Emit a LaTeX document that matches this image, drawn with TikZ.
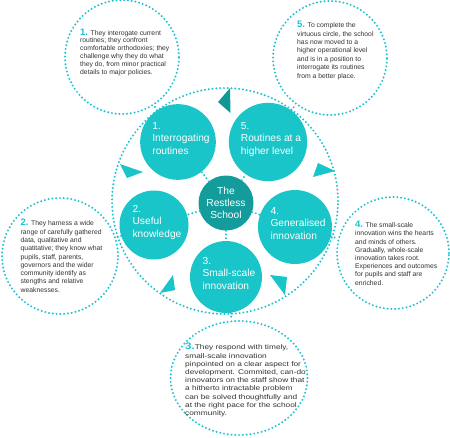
\documentclass[tikz,border=0pt]{standalone}
\usepackage{fontspec}
\usepackage{graphicx}
\setmainfont{Liberation Sans}
\usetikzlibrary{shapes.geometric}
\definecolor{petalc}{HTML}{19C5C8}
\definecolor{hubc}{HTML}{149C9C}
\definecolor{darktri}{HTML}{0E9996}
\definecolor{dotc}{HTML}{1EC2D2}
\definecolor{textc}{HTML}{333333}
\newcommand{\stepno}[1]{{\fontsize{9.5}{9.5}\selectfont\bfseries\color{dotc}#1}}
\newcommand{\ptext}[1]{\begin{tabular}{@{\hspace{6pt}}l@{}}#1\end{tabular}}
\begin{document}
\begin{tikzpicture}[x=1pt,y=-1pt,
  dotline/.style={draw=dotc, line width=2.2pt, line cap=round, dash pattern=on 0pt off 3.8pt},
  petal/.style={circle, fill=petalc, minimum size=69pt, inner sep=0pt, text=white,
    text depth=21pt, font=\fontsize{10.2}{12.3}\selectfont},
  hub/.style={circle, fill=hubc, minimum size=55pt, inner sep=0pt, text=white, align=center,
    font=\fontsize{10.2}{12.3}\selectfont},
  txtcircle/.style={circle, dotline, minimum size=114pt, inner sep=0pt},
  desc/.style={anchor=north west, inner sep=0pt, align=left, text=textc},
  tri/.style={fill=petalc},
  toptri/.style={fill=darktri}]
\useasboundingbox (0,0) rectangle (450,437);
\fill[white] (0,0) rectangle (450,437);

% big ring
\draw[dotline] (225,201) circle[radius=113pt];

% outer text circles
\node[txtcircle] (tc1) at (122,57) {};
\node[txtcircle] (tc5) at (330,58) {};
\node[txtcircle, minimum size=116pt] (tc2) at (60,256) {};
\node[txtcircle, minimum size=112pt] (tc4) at (393,253) {};
\node[ellipse, dotline, minimum width=137pt, minimum height=114pt, inner sep=0pt] (tc3) at (239,378) {};

% direction triangles
\fill[toptri] (218,102) -- (230,88) -- (230.5,113) -- cycle;
\fill[tri] (120,164) -- (143,172) -- (127,178) -- cycle;
\fill[tri] (160,293) -- (173,275) -- (175,290) -- cycle;
\fill[tri] (270,275) -- (287,277) -- (285,295) -- cycle;
\fill[tri] (318,163) -- (335,171) -- (313,177) -- cycle;

% petals and hub
\node[petal] (p1) at (178,142) {\ptext{1.\\Interrogating\\routines}};
\node[petal] (p5) at (268,142) {\ptext{5.\\Routines at a\\higher level}};
\node[petal] (p2) at (154,225) {\ptext{2.\\Useful\\knowledge}};
\node[petal] (p4) at (295,227) {\ptext{4.\\Generalised\\innovation}};
\node[petal] (p3) at (226,277) {\ptext{3.\\Small-scale\\innovation}};
\node[hub] (hub) at (226,203) {The\\Restless\\School};

% connectors
\foreach \p in {p1,p2,p3,p4,p5} \draw[dotline] (hub) -- (\p);
\draw[dotline] (p1) -- (tc1);
\draw[dotline] (p5) -- (tc5);
\draw[dotline] (p2) -- (tc2);
\draw[dotline] (p4) -- (tc4);
\draw[dotline] (p3) -- (tc3);

% descriptions
\node[desc, font=\fontsize{6.8}{7.9}\selectfont] (t1) at (80,28.3)
 {\stepno{1.} They interogate current\\routines; they confront\\comfortable orthodoxies; they\\challenge why they do what\\they do, from minor practical\\details to major policies.};
\node[desc, font=\fontsize{6.8}{8.4}\selectfont] (t5) at (297,21)
 {\stepno{5.} To complete the\\virtuous circle, the school\\has now moved to a\\higher operational level\\and is in a position to\\interrogate its routines\\from a better place.};
\node[desc, font=\fontsize{6.8}{8.3}\selectfont] (t2) at (20.5,219)
 {\stepno{2.} They harness a wide\\range of carefully gathered\\data, qualitative and\\quatitative; they know what\\pupils, staff, parents,\\governors and the wider\\community identify as\\stengths and relative\\weaknesses.};
\node[desc, font=\fontsize{6.8}{8.2}\selectfont] (t4) at (355,221)
 {\stepno{4.} The small-scale\\innovation wins the hearts\\and minds of others.\\Gradually, whole-scale\\innovation takes root.\\Experiences and outcomes\\for pupils and staff are\\enriched.};
\node[desc, font=\fontsize{6.8}{8.2}\selectfont] (t3) at (185,343)
 {\scalebox{1.22}[1]{\begin{tabular}{@{}l@{}}\stepno{3.}They respond with timely,\\small-scale innovation\\pinpointed on a clear aspect for\\development. Commited, can-do\\innovators on the staff show that\\a hitherto intractable problem\\can be solved thoughtfully and\\at the right pace for the school\\community.\end{tabular}}};
\end{tikzpicture}
\end{document}
